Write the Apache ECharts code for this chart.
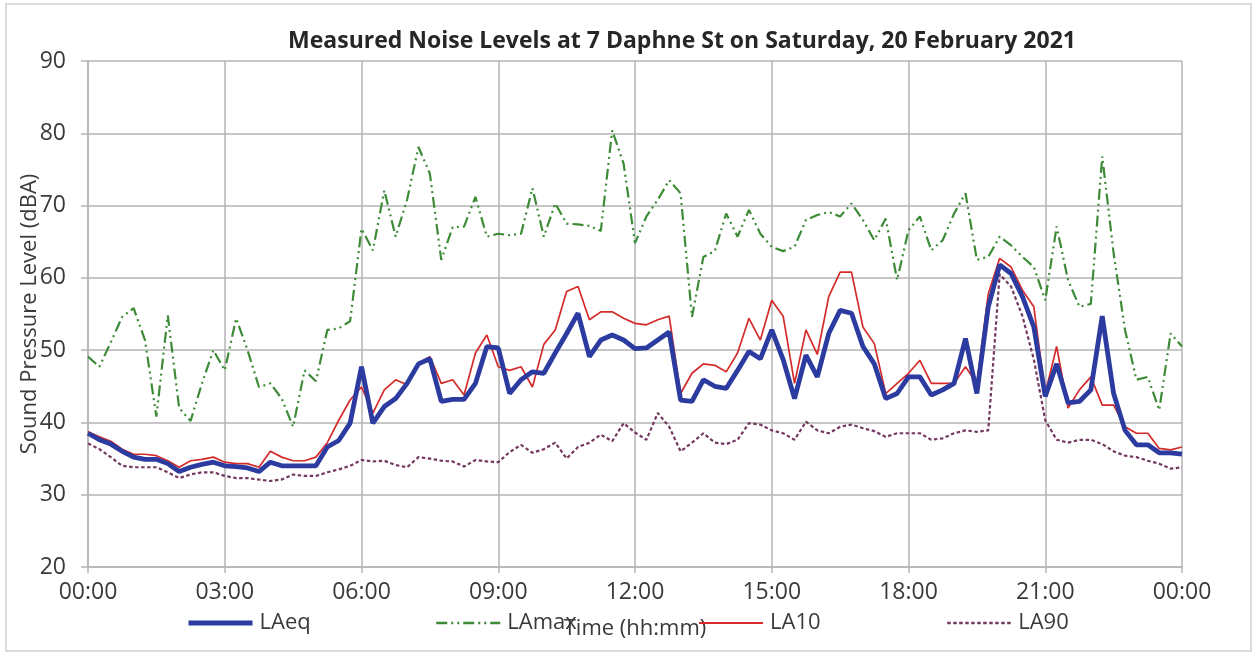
<!DOCTYPE html>
<html>
<head>
<meta charset="utf-8">
<script src="https://cdn.jsdelivr.net/npm/echarts@6/dist/echarts.min.js"></script>
<style>
html,body{margin:0;padding:0;background:#fff;}
#chart{width:1255px;height:657px;}
</style>
</head>
<body>
<div id="chart"></div>
<script>
// 15-minute intervals from 00:00 to 24:00 (shown as 00:00)
const times = [];
for (let h = 0; h < 24; h++) {
  for (let m = 0; m < 60; m += 15) {
    times.push(String(h).padStart(2, '0') + ':' + String(m).padStart(2, '0'));
  }
}
times.push('00:00');

const yTicks = [20, 30, 40, 50, 60, 70, 80, 90];

const LAeq = [
  38.5, 37.6, 37.0, 36.0, 35.2, 34.9, 34.9, 34.3,
  33.2, 33.8, 34.2, 34.5, 34.0, 33.9, 33.7, 33.2,
  34.5, 34.0, 34.0, 34.0, 34.0, 36.6, 37.5, 39.9,
  47.7, 39.9, 42.2, 43.3, 45.4, 48.1, 48.8, 42.9,
  43.2, 43.2, 45.4, 50.5, 50.3, 44.0, 45.9, 47.0,
  46.8, 49.6, 52.3, 55.1, 49.1, 51.4, 52.1, 51.4,
  50.2, 50.3, 51.4, 52.5, 43.1, 42.9, 45.9, 45.0,
  44.7, 47.2, 49.8, 48.8, 52.8, 48.7, 43.3, 49.3,
  46.3, 52.3, 55.5, 55.1, 50.5, 48.1, 43.3, 44.0,
  46.3, 46.3, 43.8, 44.5, 45.4, 51.6, 44.0, 56.0,
  61.8, 60.6, 57.4, 53.2, 43.6, 48.1, 42.7, 42.9,
  44.5, 54.7, 44.0, 38.9, 36.9, 36.9, 35.8, 35.8,
  35.6
];

const LAmax = [
  49.1, 47.7, 51.1, 54.6, 55.8, 51.4, 40.8, 54.8,
  42.0, 40.2, 45.4, 50.0, 47.2, 54.4, 50.0, 44.9,
  45.4, 43.3, 39.4, 47.2, 45.7, 52.8, 53.0, 54.0,
  66.8, 63.8, 72.1, 65.7, 70.8, 78.1, 74.4, 62.5,
  67.0, 67.1, 71.2, 65.7, 66.1, 65.9, 66.1, 72.4,
  65.7, 70.3, 67.5, 67.4, 67.2, 66.5, 80.4, 75.8,
  64.8, 68.5, 70.8, 73.5, 71.7, 54.6, 62.9, 63.7,
  68.9, 65.7, 69.4, 66.1, 64.3, 63.7, 64.3, 68.0,
  68.7, 69.1, 68.5, 70.3, 68.0, 65.2, 68.2, 59.7,
  66.6, 68.5, 63.8, 65.2, 68.9, 71.7, 62.5, 62.9,
  65.7, 64.5, 62.9, 61.5, 56.9, 67.1, 59.7, 56.0,
  56.4, 76.8, 63.4, 52.8, 45.9, 46.3, 41.7, 52.3,
  50.5
];

const LA10 = [
  38.7, 38.0, 37.4, 36.3, 35.6, 35.6, 35.4, 34.7,
  33.8, 34.7, 34.9, 35.2, 34.5, 34.3, 34.3, 33.8,
  36.0, 35.2, 34.7, 34.7, 35.2, 37.2, 40.3, 43.1,
  44.9, 41.3, 44.5, 45.9, 45.2, 48.1, 49.1, 45.4,
  45.9, 43.8, 49.6, 52.1, 47.7, 47.2, 47.7, 44.9,
  50.8, 52.8, 58.1, 58.8, 54.2, 55.3, 55.3, 54.4,
  53.7, 53.5, 54.2, 54.7, 44.0, 46.8, 48.1, 47.9,
  47.0, 49.6, 54.4, 51.4, 56.9, 54.7, 45.4, 52.8,
  49.4, 57.4, 60.8, 60.8, 53.2, 50.9, 44.0, 45.4,
  46.8, 48.6, 45.4, 45.4, 45.4, 47.7, 45.4, 57.8,
  62.7, 61.5, 58.3, 56.0, 44.0, 50.5, 42.0, 44.5,
  46.3, 42.4, 42.4, 39.4, 38.5, 38.5, 36.4, 36.2,
  36.6
];

const LA90 = [
  37.1, 36.3, 35.2, 34.0, 33.8, 33.8, 33.8, 33.1,
  32.3, 32.8, 33.1, 33.1, 32.6, 32.3, 32.3, 32.1,
  31.9, 32.1, 32.8, 32.6, 32.6, 33.1, 33.5, 34.0,
  34.8, 34.6, 34.7, 34.1, 33.8, 35.2, 35.0, 34.7,
  34.6, 33.9, 34.8, 34.6, 34.5, 35.9, 36.9, 35.8,
  36.3, 37.2, 35.0, 36.6, 37.2, 38.3, 37.4, 39.9,
  38.6, 37.6, 41.3, 39.4, 36.0, 37.2, 38.5, 37.2,
  37.0, 37.6, 39.9, 39.7, 38.9, 38.5, 37.6, 40.1,
  38.9, 38.5, 39.4, 39.7, 39.2, 38.8, 38.0, 38.5,
  38.5, 38.5, 37.6, 37.8, 38.5, 38.9, 38.7, 38.9,
  60.5, 58.8, 54.7, 48.7, 40.3, 37.6, 37.2, 37.6,
  37.6, 37.0, 36.0, 35.4, 35.2, 34.7, 34.3, 33.6,
  33.8
];

const FONT = '"Open Sans", "Liberation Sans", sans-serif';
const textColor = '#3a3a3a';
const gridColor = '#b5b5b5';

const chart = echarts.init(document.getElementById('chart'), null, {renderer: 'canvas'});

const legendBase = {
  orient: 'horizontal',
  top: 607,
  itemWidth: 64,
  itemHeight: 14,
  itemStyle: {opacity: 0},
  textStyle: {fontFamily: FONT, fontSize: 22, color: textColor, padding: [0, 0, 0, 2]}
};

chart.setOption({
  backgroundColor: '#ffffff',
  animation: false,
  title: {
    text: 'Measured Noise Levels at 7 Daphne St on Saturday, 20 February 2021',
    left: 677,
    top: 25,
    textAlign: 'center',
    textStyle: {fontFamily: FONT, fontSize: 23, fontWeight: 'bold', color: '#262626'}
  },
  graphic: [{
    type: 'rect',
    shape: {x: 6, y: 4, width: 1245, height: 647},
    style: {fill: 'none', stroke: '#d0d0d0', lineWidth: 1.5},
    silent: true,
    z: -10
  }],
  legend: [
    Object.assign({}, legendBase, {left: 181, data: ['LAeq'], lineStyle: {width: 5}}),
    Object.assign({}, legendBase, {left: 430, data: ['LAmax'], lineStyle: {width: 2.5}}),
    Object.assign({}, legendBase, {left: 693, data: ['LA10'], lineStyle: {width: 2}}),
    Object.assign({}, legendBase, {left: 941, data: ['LA90'], lineStyle: {width: 2.4}})
  ],
  grid: {left: 88, right: 73, top: 61, bottom: 90, outerBoundsMode: 'none'},
  xAxis: {
    type: 'category',
    data: times,
    boundaryGap: false,
    name: 'Time (hh:mm)',
    nameLocation: 'middle',
    nameGap: 51,
    nameMoveOverlap: false,
    nameTextStyle: {fontFamily: FONT, fontSize: 22, color: textColor},
    axisLine: {show: true, lineStyle: {color: gridColor, width: 1.5}},
    axisTick: {show: true, interval: 11, length: 6, inside: false, lineStyle: {color: gridColor, width: 1.5}},
    axisLabel: {interval: 11, margin: 14, fontFamily: FONT, fontSize: 23, color: textColor},
    splitLine: {show: true, interval: 11, lineStyle: {color: gridColor, width: 1.5}}
  },
  yAxis: {
    type: 'value',
    min: yTicks[0],
    max: yTicks[yTicks.length - 1],
    interval: 10,
    name: 'Sound Pressure Level (dBA)',
    nameLocation: 'middle',
    nameGap: 47,
    nameMoveOverlap: false,
    nameTextStyle: {fontFamily: FONT, fontSize: 22, color: textColor},
    axisLine: {show: true, lineStyle: {color: gridColor, width: 1.5}},
    axisTick: {show: true, length: 7, lineStyle: {color: gridColor, width: 1.5}},
    axisLabel: {margin: 22, fontFamily: FONT, fontSize: 23, color: textColor},
    splitLine: {show: true, lineStyle: {color: gridColor, width: 1.5}}
  },
  series: [
    {
      name: 'LAmax', type: 'line', data: LAmax, symbol: 'none', z: 2,
      lineStyle: {color: '#3d8b37', width: 2.2, type: [11, 4, 2, 4, 2, 4]},
      itemStyle: {color: '#3d8b37'}
    },
    {
      name: 'LA90', type: 'line', data: LA90, symbol: 'none', z: 3,
      lineStyle: {color: '#74395f', width: 2.2, type: [3.5, 2.5]},
      itemStyle: {color: '#74395f'}
    },
    {
      name: 'LA10', type: 'line', data: LA10, symbol: 'none', z: 4,
      lineStyle: {color: '#d42b2b', width: 1.7},
      itemStyle: {color: '#d42b2b'}
    },
    {
      name: 'LAeq', type: 'line', data: LAeq, symbol: 'none', z: 5,
      lineStyle: {color: '#2c3b9f', width: 4.8},
      itemStyle: {color: '#2c3b9f'}
    }
  ]
});
</script>
</body>
</html>
